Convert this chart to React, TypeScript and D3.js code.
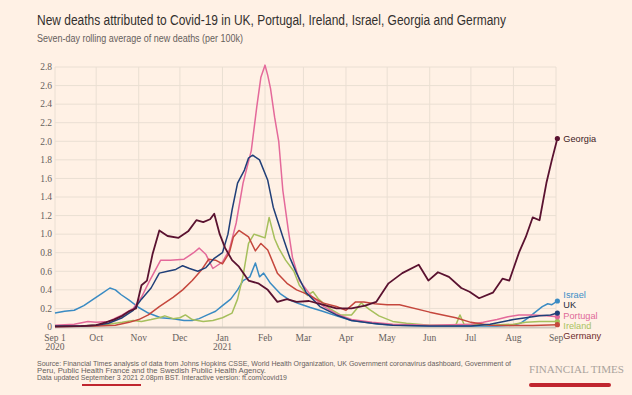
import React, { useEffect, useRef } from 'react';
import * as d3 from 'd3';

// values (deaths per 100k, 7-day average)
const countries = ['Israel', 'Ireland', 'Portugal', 'Germany', 'UK', 'Georgia'];

const georgia: [string, number][] = [
  ['2020-09-01', 0.005], ['2020-09-20', 0.01], ['2020-10-01', 0.02], ['2020-10-08', 0.05], ['2020-10-14', 0.08],
  ['2020-10-20', 0.12], ['2020-10-25', 0.17], ['2020-10-30', 0.2], ['2020-11-03', 0.45], ['2020-11-07', 0.5],
  ['2020-11-11', 0.78], ['2020-11-16', 1.04], ['2020-11-22', 0.98], ['2020-11-30', 0.96], ['2020-12-07', 1.03],
  ['2020-12-13', 1.15], ['2020-12-18', 1.13], ['2020-12-23', 1.16], ['2020-12-26', 1.22], ['2020-12-30', 1.0],
  ['2021-01-03', 0.85], ['2021-01-08', 0.72], ['2021-01-13', 0.65], ['2021-01-20', 0.5], ['2021-01-27', 0.47],
  ['2021-02-03', 0.4], ['2021-02-10', 0.27], ['2021-02-17', 0.3], ['2021-02-24', 0.27], ['2021-03-05', 0.28],
  ['2021-03-15', 0.24], ['2021-03-25', 0.2], ['2021-04-05', 0.2], ['2021-04-15', 0.23], ['2021-04-23', 0.27],
  ['2021-05-02', 0.47], ['2021-05-12', 0.58], ['2021-05-24', 0.67], ['2021-05-31', 0.5], ['2021-06-07', 0.59],
  ['2021-06-15', 0.54], ['2021-06-24', 0.42], ['2021-06-30', 0.38], ['2021-07-07', 0.31], ['2021-07-17', 0.37],
  ['2021-07-24', 0.52], ['2021-07-29', 0.5], ['2021-08-05', 0.8], ['2021-08-10', 0.97], ['2021-08-15', 1.18],
  ['2021-08-20', 1.15], ['2021-08-25', 1.55], ['2021-08-29', 1.8], ['2021-09-02', 2.03],
];

const israel: [string, number][] = [
  ['2020-09-01', 0.15], ['2020-09-08', 0.17], ['2020-09-15', 0.18], ['2020-09-22', 0.23], ['2020-09-29', 0.3],
  ['2020-10-05', 0.36], ['2020-10-11', 0.42], ['2020-10-15', 0.4], ['2020-10-19', 0.35], ['2020-10-25', 0.29],
  ['2020-11-01', 0.21], ['2020-11-08', 0.15], ['2020-11-17', 0.1], ['2020-11-26', 0.09], ['2020-12-04', 0.07],
  ['2020-12-10', 0.07], ['2020-12-15', 0.09], ['2020-12-21', 0.13], ['2020-12-27', 0.17], ['2021-01-01', 0.23],
  ['2021-01-07', 0.3], ['2021-01-12', 0.4], ['2021-01-16', 0.5], ['2021-01-21', 0.54], ['2021-01-25', 0.69],
  ['2021-01-28', 0.54], ['2021-01-31', 0.58], ['2021-02-05', 0.47], ['2021-02-12', 0.36], ['2021-02-19', 0.29],
  ['2021-02-26', 0.25], ['2021-03-06', 0.21], ['2021-03-15', 0.17], ['2021-03-25', 0.12], ['2021-04-05', 0.07],
  ['2021-04-15', 0.05], ['2021-04-25', 0.03], ['2021-05-10', 0.02], ['2021-06-01', 0.01], ['2021-07-01', 0.01],
  ['2021-07-20', 0.01], ['2021-08-01', 0.02], ['2021-08-06', 0.04], ['2021-08-12', 0.1], ['2021-08-16', 0.15],
  ['2021-08-22', 0.22], ['2021-08-26', 0.25], ['2021-08-29', 0.24], ['2021-09-02', 0.28],
];

const uk: [string, number][] = [
  ['2020-09-01', 0.01], ['2020-09-20', 0.01], ['2020-10-01', 0.02], ['2020-10-10', 0.04], ['2020-10-20', 0.1],
  ['2020-10-28', 0.18], ['2020-11-03', 0.3], ['2020-11-10', 0.42], ['2020-11-16', 0.58], ['2020-11-22', 0.6],
  ['2020-11-28', 0.62], ['2020-12-03', 0.66], ['2020-12-08', 0.63], ['2020-12-14', 0.6], ['2020-12-20', 0.64],
  ['2020-12-26', 0.74], ['2021-01-01', 0.8], ['2021-01-05', 1.0], ['2021-01-08', 1.26], ['2021-01-12', 1.55],
  ['2021-01-17', 1.69], ['2021-01-20', 1.82], ['2021-01-23', 1.85], ['2021-01-28', 1.8], ['2021-02-03', 1.58],
  ['2021-02-07', 1.29], ['2021-02-14', 0.97], ['2021-02-19', 0.75], ['2021-02-24', 0.58], ['2021-03-03', 0.37],
  ['2021-03-13', 0.22], ['2021-03-25', 0.13], ['2021-04-05', 0.07], ['2021-04-20', 0.04], ['2021-05-05', 0.02],
  ['2021-06-01', 0.01], ['2021-07-01', 0.01], ['2021-07-15', 0.03], ['2021-07-25', 0.06], ['2021-08-01', 0.08],
  ['2021-08-10', 0.1], ['2021-08-20', 0.12], ['2021-08-28', 0.13], ['2021-09-02', 0.15],
];

const portugal: [string, number][] = [
  ['2020-09-01', 0.02], ['2020-09-15', 0.03], ['2020-09-25', 0.06], ['2020-10-01', 0.05], ['2020-10-10', 0.06],
  ['2020-10-20', 0.13], ['2020-10-28', 0.2], ['2020-11-03', 0.32], ['2020-11-09', 0.5], ['2020-11-17', 0.72],
  ['2020-11-24', 0.72], ['2020-12-04', 0.73], ['2020-12-11', 0.8], ['2020-12-15', 0.85], ['2020-12-20', 0.78],
  ['2020-12-25', 0.63], ['2021-01-01', 0.7], ['2021-01-06', 0.83], ['2021-01-11', 1.12], ['2021-01-16', 1.55],
  ['2021-01-22', 1.9], ['2021-01-26', 2.37], ['2021-01-29', 2.69], ['2021-02-01', 2.82], ['2021-02-03', 2.71],
  ['2021-02-05', 2.57], ['2021-02-08', 2.26], ['2021-02-11', 2.0], ['2021-02-14', 1.47], ['2021-02-18', 1.04],
  ['2021-02-21', 0.75], ['2021-02-26', 0.5], ['2021-03-07', 0.33], ['2021-03-16', 0.22], ['2021-03-25', 0.14],
  ['2021-04-05', 0.08], ['2021-04-20', 0.05], ['2021-05-05', 0.03], ['2021-06-01', 0.02], ['2021-07-01', 0.03],
  ['2021-07-10', 0.05], ['2021-07-20', 0.08], ['2021-07-28', 0.11], ['2021-08-05', 0.13], ['2021-08-15', 0.13],
  ['2021-08-25', 0.12], ['2021-09-02', 0.11],
];

const ireland: [string, number][] = [
  ['2020-09-01', 0.01], ['2020-09-20', 0.01], ['2020-10-01', 0.02], ['2020-10-10', 0.03], ['2020-10-20', 0.05],
  ['2020-10-28', 0.07], ['2020-11-03', 0.06], ['2020-11-10', 0.08], ['2020-11-16', 0.1], ['2020-11-20', 0.12],
  ['2020-11-26', 0.09], ['2020-12-01', 0.1], ['2020-12-05', 0.13], ['2020-12-10', 0.08], ['2020-12-18', 0.06],
  ['2020-12-25', 0.07], ['2021-01-01', 0.1], ['2021-01-08', 0.15], ['2021-01-12', 0.3], ['2021-01-16', 0.55],
  ['2021-01-20', 0.9], ['2021-01-24', 1.0], ['2021-01-28', 0.98], ['2021-02-01', 0.96], ['2021-02-04', 1.18],
  ['2021-02-08', 0.95], ['2021-02-11', 0.85], ['2021-02-16', 0.72], ['2021-02-22', 0.6], ['2021-02-26', 0.45],
  ['2021-03-04', 0.34], ['2021-03-08', 0.38], ['2021-03-12', 0.3], ['2021-03-20', 0.2], ['2021-03-28', 0.13],
  ['2021-04-05', 0.13], ['2021-04-09', 0.2], ['2021-04-12', 0.26], ['2021-04-18', 0.19], ['2021-04-25', 0.12],
  ['2021-05-05', 0.06], ['2021-05-15', 0.04], ['2021-06-01', 0.02], ['2021-06-20', 0.02], ['2021-06-23', 0.13],
  ['2021-06-26', 0.03], ['2021-07-15', 0.02], ['2021-08-01', 0.03], ['2021-08-10', 0.05], ['2021-08-20', 0.06],
  ['2021-09-02', 0.06],
];

const germany: [string, number][] = [
  ['2020-09-01', 0.005], ['2020-10-01', 0.01], ['2020-10-15', 0.02], ['2020-10-25', 0.05], ['2020-11-01', 0.08],
  ['2020-11-08', 0.13], ['2020-11-16', 0.22], ['2020-11-26', 0.32], ['2020-12-03', 0.4], ['2020-12-10', 0.5],
  ['2020-12-17', 0.62], ['2020-12-22', 0.73], ['2020-12-27', 0.72], ['2021-01-01', 0.68], ['2021-01-06', 0.8],
  ['2021-01-09', 0.97], ['2021-01-13', 1.04], ['2021-01-20', 0.97], ['2021-01-25', 0.82], ['2021-01-29', 0.9],
  ['2021-02-03', 0.83], ['2021-02-10', 0.58], ['2021-02-17', 0.47], ['2021-02-24', 0.4], ['2021-03-01', 0.37],
  ['2021-03-08', 0.32], ['2021-03-15', 0.26], ['2021-03-25', 0.22], ['2021-04-01', 0.18], ['2021-04-08', 0.27],
  ['2021-04-14', 0.27], ['2021-04-22', 0.25], ['2021-05-01', 0.24], ['2021-05-10', 0.24], ['2021-06-01', 0.16],
  ['2021-06-20', 0.1], ['2021-07-01', 0.05], ['2021-07-15', 0.02], ['2021-08-01', 0.015], ['2021-08-15', 0.015],
  ['2021-09-02', 0.025],
];

const seriesData: Record<string, [string, number][]> = {
  Georgia: georgia, Israel: israel, UK: uk, Portugal: portugal, Ireland: ireland, Germany: germany,
};

const lineColors: Record<string, string> = {
  Georgia: '#5a1230', Israel: '#3a8bc3', UK: '#203f78', Portugal: '#e4699a', Ireland: '#a6bf5c', Germany: '#c5473d',
};
const labelColors: Record<string, string> = {
  Georgia: '#3d1a24', Israel: '#3d8ec7', UK: '#262a3a', Portugal: '#e06a98', Ireland: '#a9c260', Germany: '#6e2a2c',
};

const yTicks = [0, 0.2, 0.4, 0.6, 0.8, 1.0, 1.2, 1.4, 1.6, 1.8, 2.0, 2.2, 2.4, 2.6, 2.8];
const monthTicks = ['2020-09-01', '2020-10-01', '2020-11-01', '2020-12-01', '2021-01-01', '2021-02-01', '2021-03-01',
  '2021-04-01', '2021-05-01', '2021-06-01', '2021-07-01', '2021-08-01', '2021-09-01'];
const monthLabels = ['Sep 1', 'Oct', 'Nov', 'Dec', 'Jan', 'Feb', 'Mar', 'Apr', 'May', 'Jun', 'Jul', 'Aug', 'Sep'];
const yearLabels: Record<string, string> = { '2020-09-01': '2020', '2021-01-01': '2021' };

const title = 'New deaths attributed to Covid-19 in UK, Portugal, Ireland, Israel, Georgia and Germany';
const subtitle = 'Seven-day rolling average of new deaths (per 100k)';
const sourceLines = [
  'Source: Financial Times analysis of data from Johns Hopkins CSSE, World Health Organization, UK Government coronavirus dashboard, Government of',
  'Peru, Public Health France and the Swedish Public Health Agency.',
];

const W = 632;
const H = 395;

const App = () => {
  const ref = useRef<SVGSVGElement>(null);

  useEffect(() => {
    const svg = d3.select(ref.current);
    svg.selectAll('*').remove();
    const parse = d3.timeParse('%Y-%m-%d');

    const x = d3.scaleTime().domain([parse('2020-09-01')!, parse('2021-09-01')!]).range([55, 556]);
    const y = d3.scaleLinear().domain([0, 2.8]).range([327, 67]);

    svg.append('rect').attr('width', W).attr('height', H).attr('fill', '#fff1e5');

    const sans = '"Liberation Sans", Arial, sans-serif';
    const serif = '"Liberation Serif", "Times New Roman", serif';

    svg.append('text').attr('x', 37).attr('y', 25).attr('font-family', sans).attr('font-size', 14)
      .attr('fill', '#33302e').attr('textLength', 469).attr('lengthAdjust', 'spacingAndGlyphs').text(title);
    svg.append('text').attr('x', 37).attr('y', 42).attr('font-family', sans).attr('font-size', 10)
      .attr('fill', '#66605c').attr('textLength', 206).attr('lengthAdjust', 'spacingAndGlyphs').text(subtitle);

    // grid
    const grid = svg.append('g');
    grid.selectAll('line.h').data(yTicks.slice(1)).join('line')
      .attr('x1', x.range()[0]).attr('x2', x.range()[1])
      .attr('y1', (d) => y(d)).attr('y2', (d) => y(d))
      .attr('stroke', '#eadfd3').attr('stroke-width', 1);
    grid.selectAll('line.v').data(monthTicks).join('line')
      .attr('x1', (d) => x(parse(d)!)).attr('x2', (d) => x(parse(d)!))
      .attr('y1', y(2.8)).attr('y2', y(0))
      .attr('stroke', '#eadfd3').attr('stroke-width', 1);

    svg.append('line').attr('x1', x.range()[0]).attr('x2', x.range()[1])
      .attr('y1', y(0) + 0.5).attr('y2', y(0) + 0.5).attr('stroke', '#cfc6bc').attr('stroke-width', 2);

    // y axis labels
    svg.append('g').selectAll('text').data(yTicks).join('text')
      .attr('x', 52).attr('y', (d) => y(d)).attr('dy', '0.35em').attr('text-anchor', 'end')
      .attr('font-family', serif).attr('font-size', 9.5).attr('fill', '#66605c')
      .text((d) => (d === 0 ? '0' : d3.format('.1f')(d)));

    // x axis labels
    const xl = svg.append('g');
    xl.selectAll('text.m').data(monthTicks).join('text')
      .attr('x', (d) => x(parse(d)!)).attr('y', 341).attr('text-anchor', 'middle')
      .attr('font-family', serif).attr('font-size', 9.5).attr('fill', '#66605c')
      .text((_, i) => monthLabels[i]);
    xl.selectAll('text.yr').data(Object.keys(yearLabels)).join('text')
      .attr('x', (d) => x(parse(d)!)).attr('y', 350).attr('text-anchor', 'middle')
      .attr('font-family', serif).attr('font-size', 9.5).attr('fill', '#66605c')
      .text((d) => yearLabels[d]);

    // lines
    const line = d3.line<[string, number]>().x((d) => x(parse(d[0])!)).y((d) => y(d[1]));
    const lines = svg.append('g');
    countries.forEach((c) => {
      lines.append('path').datum(seriesData[c]).attr('d', line).attr('fill', 'none')
        .attr('stroke', lineColors[c]).attr('stroke-width', c === 'Georgia' ? 1.8 : 1.5)
        .attr('stroke-linejoin', 'round');
    });
    countries.forEach((c) => {
      const last = seriesData[c][seriesData[c].length - 1];
      lines.append('circle').attr('cx', x(parse(last[0])!)).attr('cy', y(last[1])).attr('r', 2.6)
        .attr('fill', lineColors[c]);
    });

    // end labels, nudged apart so they do not overlap
    const labels = countries.map((c) => {
      const last = seriesData[c][seriesData[c].length - 1];
      return { c, x: x(parse(last[0])!) + 6, y: y(last[1]) };
    }).sort((a, b) => a.y - b.y);
    const gap = 10.4;
    for (let iter = 0; iter < 300; iter++) {
      for (let i = 1; i < labels.length; i++) {
        const d = labels[i].y - labels[i - 1].y;
        if (d < gap) {
          const push = (gap - d) / 2;
          labels[i].y += push;
          labels[i - 1].y -= push;
        }
      }
    }
    svg.append('g').selectAll('text').data(labels).join('text')
      .attr('x', (d) => d.x).attr('y', (d) => d.y).attr('dy', '0.35em')
      .attr('font-family', sans).attr('font-size', 9.2).attr('fill', (d) => labelColors[d.c])
      .text((d) => d.c);

    // footer
    const foot = svg.append('g').attr('font-family', sans).attr('font-size', 7).attr('fill', '#66605c');
    foot.append('text').attr('x', 37).attr('y', 366).attr('textLength', 474)
      .attr('lengthAdjust', 'spacingAndGlyphs').text(sourceLines[0]);
    foot.append('text').attr('x', 37).attr('y', 373).attr('textLength', 229)
      .attr('lengthAdjust', 'spacingAndGlyphs').text(sourceLines[1]);
    const t3 = foot.append('text').attr('x', 37).attr('y', 380).attr('textLength', 250)
      .attr('lengthAdjust', 'spacingAndGlyphs');
    t3.append('tspan').text('Data updated ');
    t3.append('tspan').text('September 3 2021');
    t3.append('tspan').text(' 2.08pm BST. Interactive version: ft.com/covid19');
    svg.append('line').attr('x1', 82).attr('x2', 141).attr('y1', 385).attr('y2', 385)
      .attr('stroke', '#c0262f').attr('stroke-width', 2);

    svg.append('text').attr('x', 529).attr('y', 373).attr('font-family', serif).attr('font-size', 11)
      .attr('fill', '#aaa39c').attr('textLength', 95).attr('lengthAdjust', 'spacingAndGlyphs')
      .text('FINANCIAL TIMES');
    svg.append('line').attr('x1', 531).attr('x2', 609).attr('y1', 385).attr('y2', 385)
      .attr('stroke', '#c0262f').attr('stroke-width', 4).attr('stroke-linecap', 'round');
  }, []);

  return <svg ref={ref} width={W} height={H} style={{ position: 'absolute', left: 0, top: 0 }} />;
};

export default App;
